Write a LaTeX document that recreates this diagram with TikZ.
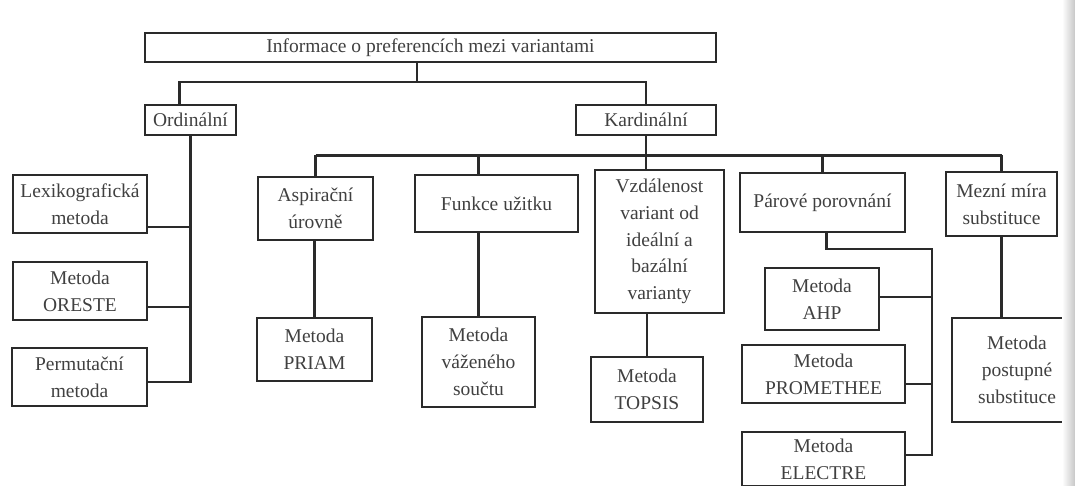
\documentclass[tikz,border=0pt]{standalone}
\usepackage{fontspec}
\setmainfont{Liberation Serif}
\definecolor{linec}{HTML}{2A2A2A}
\definecolor{textc}{HTML}{404040}
\begin{document}
\begin{tikzpicture}[x=1pt,y=-1pt,
  box/.style={draw=linec, line width=2.8pt, text=textc, align=center, inner sep=0pt,
              font=\fontsize{19.5}{26.8}\selectfont},
  conn/.style={draw=linec, line width=2.2pt}]
\useasboundingbox (0,0) rectangle (1075,485);
\clip (0,0) rectangle (1075,485);
\fill[white] (0,0) rectangle (1075,485);

% top levels
\node[box, minimum width=571pt, minimum height=29pt] (top) at (430.5,47.5) {Informace o preferencích mezi variantami};
\node[box, minimum width=91pt, minimum height=30pt] (ord) at (190.5,120) {Ordinální};
\node[box, minimum width=140pt, minimum height=30pt] (kard) at (646,120) {Kardinální};

% ordinal methods
\node[box, minimum width=134pt, minimum height=58pt] (lex) at (80,204) {Lexikografická\\metoda};
\node[box, minimum width=134pt, minimum height=58pt] (ores) at (80,291) {Metoda\\ORESTE};
\node[box, minimum width=135pt, minimum height=58pt] (perm) at (79.5,377) {Permutační\\metoda};

% cardinal groups
\node[box, minimum width=115pt, minimum height=63pt] (asp) at (315.5,208.5) {Aspirační\\úrovně};
\node[box, minimum width=163pt, minimum height=57pt] (fun) at (496.5,203.5) {Funkce užitku};
\node[box, minimum width=129pt, minimum height=143pt] (vzd) at (659.5,241.5) {Vzdálenost\\variant od\\ideální a\\bazální\\varianty};
\node[box, minimum width=165pt, minimum height=59pt] (par) at (822.5,202.5) {Párové porovnání};
\node[box, minimum width=111pt, minimum height=64pt] (mez) at (1001.5,204) {Mezní míra\\substituce};

% cardinal methods
\node[box, minimum width=115pt, minimum height=63pt] (priam) at (314.5,349.5) {Metoda\\PRIAM};
\node[box, minimum width=113pt, minimum height=90pt] (vaz) at (478.5,362) {Metoda\\váženého\\součtu};
\node[box, minimum width=112pt, minimum height=65pt] (topsis) at (647,389.5) {Metoda\\TOPSIS};
\node[box, minimum width=114pt, minimum height=62pt] (ahp) at (822,299) {Metoda\\AHP};
\node[box, minimum width=163pt, minimum height=58pt] (prom) at (823.5,374) {Metoda\\PROMETHEE};
\node[box, minimum width=163pt, minimum height=54pt] (elec) at (823.5,459) {Metoda\\ELECTRE};
\node[box, minimum width=130pt, minimum height=104pt] (post) at (1017,370) {Metoda\\postupné\\substituce};

% top connectors
\coordinate (tbus) at (417,82);
\coordinate (ordin) at ([xshift=-11pt]ord.north);
\draw[conn] (top.south -| tbus) -- (tbus);
\draw[conn] (ordin) |- (kard.north |- tbus) -- (kard.north);

% ordinal bus
\coordinate (le) at ([yshift=-23pt]lex.east);
\coordinate (oe) at ([yshift=-16pt]ores.east);
\coordinate (pe) at ([yshift=-5pt]perm.east);
\draw[conn] (ord.south) -- (pe -| ord.south) -- (pe);
\draw[conn] (le) -- (le -| ord.south);
\draw[conn] (oe) -- (oe -| ord.south);

% cardinal bus
\path (kard.south) ++(0,19) coordinate (kb);
\draw[conn] (kb -| asp.north) -- (kb -| mez.north);
\draw[conn] (kb -| asp.north) -- (asp.north);
\draw[conn] (kb -| vaz.north) -- (fun.north -| vaz.north);
\draw[conn] (kard.south) -- (kard.south |- vzd.north);
\draw[conn] (kb -| par.north) -- (par.north);
\draw[conn] (kb -| mez.north) -- (mez.north);

% lower links
\draw[conn] (asp.south -| priam.north) -- (priam.north);
\draw[conn] (fun.south -| vaz.north) -- (vaz.north);
\draw[conn] (vzd.south -| topsis.north) -- (topsis.north);
\draw[conn] (mez.south) -- (mez.south |- post.north);

% pairwise bus
\coordinate (pb) at (932,249);
\coordinate (ae) at ([yshift=2pt]ahp.east);
\coordinate (pre) at ([yshift=-10pt]prom.east);
\coordinate (ee) at ([yshift=4pt]elec.east);
\draw[conn] ([xshift=4pt]par.south) |- (pb) -- (pb |- ee) -- (ee);
\draw[conn] (ae) -- (ae -| pb);
\draw[conn] (pre) -- (pre -| pb);

% scan edge shade
\shade[left color=white, right color=black!22] (1062,0) rectangle (1075,485);
\end{tikzpicture}
\end{document}
